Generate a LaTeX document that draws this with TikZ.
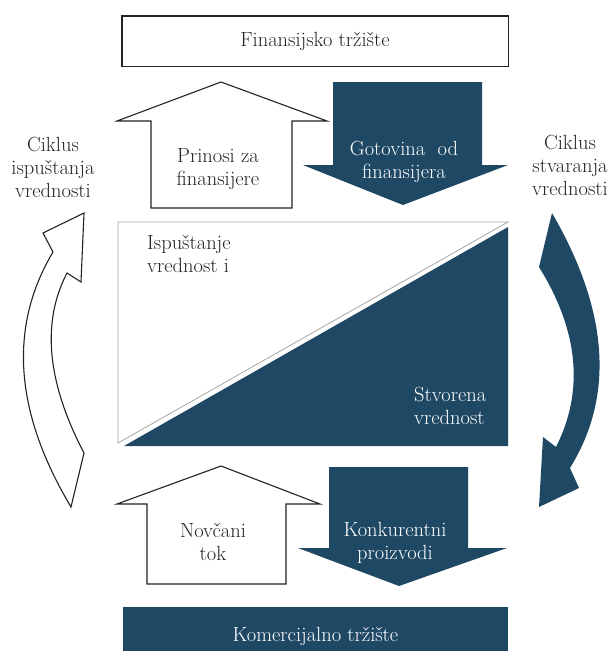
\documentclass[tikz,border=0pt]{standalone}
\usepackage{fontspec}
\definecolor{navy}{RGB}{30,72,100}
\definecolor{ink}{RGB}{35,35,35}
\begin{document}
\begin{tikzpicture}[x=1pt,y=-1pt,
  lbl/.style={font=\fontsize{20.5}{23}\selectfont, align=center, inner sep=0pt, text=ink},
  lblw/.style={lbl, text=white},
  openshape/.style={draw=ink, line width=1.1pt, fill=white, line join=miter},
  darkshape/.style={fill=navy},
]
\clip (0,0) rectangle (615,651);

% markets
\node[lbl, draw=ink, line width=1.5pt, fill=white, minimum width=386.5pt, minimum height=50.5pt] (fin) at (315,41) {Finansijsko tržište};
\node[lblw, fill=navy, minimum width=385pt, minimum height=58pt] (kom) at (315.5,636) {Komercijalno tržište};

% block arrows between the financial market and the firm
\draw[openshape] (151,208) -- (151,121) -- (117,121) -- (221,82) -- (327,121) -- (292,121) -- (292,208) -- cycle;
\fill[darkshape] (333,82) -- (482,82) -- (482,165) -- (508,165) -- (403,205) -- (303,165) -- (333,165) -- cycle;

% block arrows between the firm and the commercial market
\draw[openshape] (147,584) -- (147,504) -- (117,504) -- (221,466) -- (320,504) -- (286,504) -- (286,584) -- cycle;
\fill[darkshape] (329,467) -- (468,467) -- (468,548) -- (507,548) -- (399,586) -- (298,548) -- (329,548) -- cycle;

% value split: released (white) and created (dark)
\filldraw[fill=white, draw=gray!70, line width=0.8pt] (118,222) -- (508,222) -- (118,443) -- cycle;
\fill[darkshape] (124,446) -- (508,227) -- (508,446) -- cycle;

% curved cycle arrows
\draw[openshape] (71,507) .. controls (14.3,412) and (8.3,327) .. (53,252) -- (43,233) -- (84,213) -- (81,282) -- (67,273) .. controls (41.3,322.3) and (47,382.3) .. (84,453) -- cycle;
\fill[darkshape] (552,213) .. controls (608.7,310.7) and (614.7,395.7) .. (570,468) -- (579,488) -- (539,507) -- (543,437) -- (556,447) .. controls (584.3,391) and (578.7,331) .. (539,267) -- cycle;

% labels
\node[lbl] (cikl) at (53,167) {Ciklus\\ispuštanja\\vrednosti};
\node[lbl] (cikr) at (570,165) {Ciklus\\stvaranja\\vrednosti};
\node[lbl] (prin) at (218,169) {Prinosi za\\finansijere};
\node[lblw] (got) at (404,162) {Gotovina\ \ od\\finansijera};
\node[lbl] (novc) at (213,542) {Novčani\\tok};
\node[lblw] (konk) at (395,543) {Konkurentni\\proizvodi};
\node[lbl, anchor=north west, align=left] (isp) at (147,235) {Ispuštanje\\vrednost i};
\node[lblw, anchor=north west, align=left] (stv) at (414,387) {Stvorena\\vrednost};
\end{tikzpicture}
\end{document}
